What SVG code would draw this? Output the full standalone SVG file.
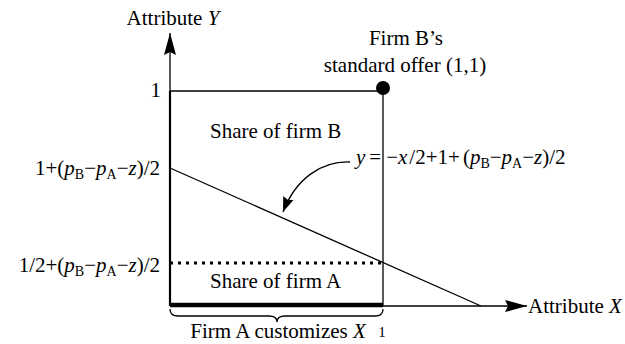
<svg xmlns="http://www.w3.org/2000/svg" width="625" height="344" viewBox="0 0 625 344">
<style>
text{font-family:'Liberation Serif','Times New Roman',serif;font-size:21px;fill:#000}
.i{font-style:italic}
.s{font-size:14px}
.thin{stroke:#000;stroke-width:1.3;fill:none}
</style>
<defs>
<marker id="ah" viewBox="0 0 22 12" refX="22" refY="6" markerWidth="22" markerHeight="12" markerUnits="userSpaceOnUse" orient="auto">
<path d="M0,0 L22,6 L0,12 L3,6 Z" fill="#000"/>
</marker>
<marker id="ah2" viewBox="0 0 15 11" refX="15" refY="5.5" markerWidth="15" markerHeight="11" markerUnits="userSpaceOnUse" orient="auto">
<path d="M0,0 L15,5.5 L0,11 L2,5.5 Z" fill="#000"/>
</marker>
</defs>
<rect width="625" height="344" fill="#fff"/>
<g id="axes">
<line x1="170" y1="306" x2="170" y2="33" class="thin" marker-end="url(#ah)"/>
<line x1="170" y1="306" x2="527" y2="306" class="thin" marker-end="url(#ah)"/>
<text x="173" y="25" text-anchor="middle">Attribute <tspan class="i">Y</tspan></text>
<text x="528" y="313">Attribute <tspan class="i">X</tspan></text>
<text x="161" y="97" text-anchor="end">1</text>
<text x="382" y="337" text-anchor="middle" style="font-size:15px">1</text>
</g>
<g id="box">
<line x1="170" y1="91" x2="383" y2="91" class="thin"/>
<line x1="383" y1="91" x2="383" y2="306" class="thin"/>
<line x1="170" y1="91" x2="170" y2="306" stroke="#000" stroke-width="2.2"/>
<line x1="170" y1="305" x2="383" y2="305" stroke="#000" stroke-width="4.5"/>
</g>
<g id="offerB">
<circle cx="383" cy="88" r="7" fill="#000"/>
<text x="406" y="45" text-anchor="middle">Firm B’s</text>
<text x="405" y="72" text-anchor="middle">standard offer (1,1)</text>
</g>
<g id="shareB"><text x="210" y="138">Share of firm B</text></g>
<g id="shareA"><text x="210" y="288">Share of firm A</text></g>
<g id="connectors">
<line x1="170" y1="168" x2="481" y2="306" class="thin"/>
<line x1="170" y1="263" x2="383" y2="263" stroke="#000" stroke-width="3" stroke-dasharray="3 5"/>
<path d="M350,162 C322,161 296,178 283,212" class="thin" marker-end="url(#ah2)"/>
<path d="M170,309 Q170,316 178,316 L269,316 Q277,316 277,322 Q277,316 285,316 L375,316 Q383,316 383,309" class="thin"/>
</g>
<g id="labels">
<text x="160" y="175" text-anchor="end">1+(<tspan class="i">p</tspan><tspan class="s" dy="4">B</tspan><tspan dy="-4">−</tspan><tspan class="i">p</tspan><tspan class="s" dy="4">A</tspan><tspan dy="-4">−</tspan><tspan class="i">z</tspan>)/2</text>
<text x="160" y="272" text-anchor="end">1/2+(<tspan class="i">p</tspan><tspan class="s" dy="4">B</tspan><tspan dy="-4">−</tspan><tspan class="i">p</tspan><tspan class="s" dy="4">A</tspan><tspan dy="-4">−</tspan><tspan class="i">z</tspan>)/2</text>
<text x="356" y="164"><tspan class="i">y</tspan><tspan dx="4">=</tspan><tspan dx="5">−</tspan><tspan class="i">x</tspan><tspan dx="2">/2+1+</tspan><tspan dx="3">(</tspan><tspan class="i">p</tspan><tspan class="s" dy="4">B</tspan><tspan dy="-4">−</tspan><tspan class="i">p</tspan><tspan class="s" dy="4">A</tspan><tspan dy="-4">−</tspan><tspan class="i">z</tspan>)/2</text>
<text x="278" y="338" text-anchor="middle">Firm A customizes <tspan class="i">X</tspan></text>
</g>
</svg>
